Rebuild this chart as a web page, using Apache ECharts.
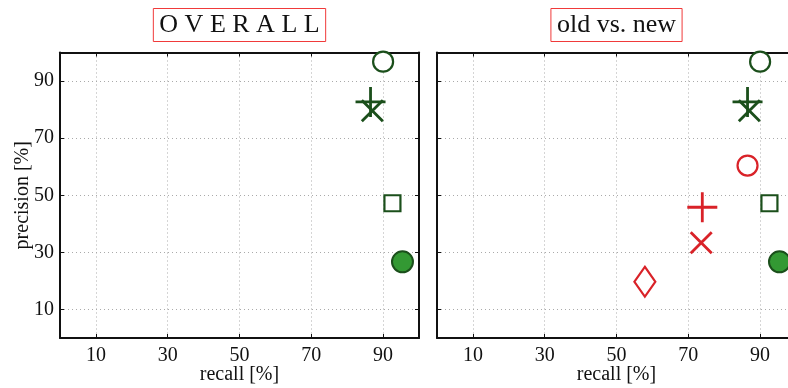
<!DOCTYPE html>
<html>
<head>
<meta charset="utf-8">
<script src="https://cdn.jsdelivr.net/npm/echarts@6/dist/echarts.min.js"></script>
<style>
  html, body { margin: 0; padding: 0; background: #fff; }
  #chart { width: 788px; height: 388px; }
</style>
</head>
<body>
<div id="chart"></div>
<script>
// Panel titles and axis ticks
const panelTitles = ['O V E R A L L', 'old vs. new'];
const tickValues = [10, 30, 50, 70, 90];

// Overall results (green): open circle, plus, cross, square, filled circle
const greenRecall = [90, 86.5, 87, 92.6, 95.4];
const greenPrecision = [96.8, 82.7, 79.6, 47.2, 26.7];

// Old method results (red): open circle, plus, cross, diamond
const redRecall = [86.5, 73.9, 73.6, 57.9];
const redPrecision = [60.4, 45.8, 33.4, 19.7];

const DARK = '#1b4f1b';
const FILL = '#339933';
const RED = '#d92228';
const FONT = 'Liberation Serif';

const PLUS = 'path://M0,5 L10,5 M5,0 L5,10';
const CROSS = 'path://M0,0 L10,10 M0,10 L10,0';

// marker look for each green / red point, in array order
const greenStyles = [
  { symbol: 'circle', size: 20, fill: '#fff', stroke: DARK, width: 2.2 },
  { symbol: PLUS, size: 30, fill: 'none', stroke: DARK, width: 2.8 },
  { symbol: CROSS, size: 21, fill: 'none', stroke: DARK, width: 2.8 },
  { symbol: 'rect', size: 16, fill: '#fff', stroke: DARK, width: 2.2 },
  { symbol: 'circle', size: 21, fill: FILL, stroke: DARK, width: 2 }
];
const redStyles = [
  { symbol: 'circle', size: 20, fill: '#fff', stroke: RED, width: 2.2 },
  { symbol: PLUS, size: 30, fill: 'none', stroke: RED, width: 2.8 },
  { symbol: CROSS, size: 21, fill: 'none', stroke: RED, width: 2.8 },
  { symbol: 'diamond', size: [21, 30], fill: '#fff', stroke: RED, width: 2.2 }
];

function points(xs, ys, styles) {
  return xs.map((x, i) => ({
    value: [x, ys[i]],
    symbol: styles[i].symbol,
    symbolSize: styles[i].size,
    itemStyle: {
      color: styles[i].fill,
      borderColor: styles[i].stroke,
      borderWidth: styles[i].width,
      opacity: 1
    }
  }));
}

const grids = [
  { left: 60, top: 52.5, width: 359, height: 285.5, outerBoundsMode: 'none', containLabel: false },
  { left: 437, top: 52.5, width: 359, height: 285.5, outerBoundsMode: 'none', containLabel: false }
];

const lineStyle = { color: '#111', width: 2 };
const labelStyle = { fontFamily: FONT, fontSize: 20, color: '#111' };

function mainX(gi) {
  return {
    type: 'value', gridIndex: gi, min: 0, max: 100, position: 'bottom',
    name: 'recall [%]', nameLocation: 'middle', nameGap: 27, nameMoveOverlap: false,
    nameTextStyle: { fontFamily: FONT, fontSize: 20, color: '#111' },
    axisLine: { show: true, onZero: false, lineStyle },
    axisTick: { show: true, inside: true, length: 4, customValues: tickValues, lineStyle: { color: '#111', width: 1 } },
    axisLabel: { show: true, customValues: tickValues, margin: 8, ...labelStyle },
    splitLine: { show: true, lineStyle: { color: '#aaa', width: 1, type: [1, 3] } }
  };
}
function mirrorX(gi) {
  return {
    type: 'value', gridIndex: gi, min: 0, max: 100, position: 'top',
    axisLine: { show: true, onZero: false, lineStyle },
    axisTick: { show: true, inside: true, length: 4, customValues: tickValues, lineStyle: { color: '#111', width: 1 } },
    axisLabel: { show: false },
    splitLine: { show: false }
  };
}
function mainY(gi) {
  return {
    type: 'value', gridIndex: gi, min: 0, max: 100, position: 'left',
    name: gi === 0 ? 'precision [%]' : '', nameLocation: 'middle', nameGap: 27, nameMoveOverlap: false,
    nameTextStyle: { fontFamily: FONT, fontSize: 20, color: '#111' },
    axisLine: { show: true, onZero: false, lineStyle },
    axisTick: { show: true, inside: true, length: 4, customValues: tickValues, lineStyle: { color: '#111', width: 1 } },
    axisLabel: { show: gi === 0, customValues: tickValues, margin: 6, ...labelStyle },
    splitLine: { show: true, lineStyle: { color: '#aaa', width: 1, type: [1, 3] } }
  };
}
function mirrorY(gi) {
  return {
    type: 'value', gridIndex: gi, min: 0, max: 100, position: 'right',
    axisLine: { show: true, onZero: false, lineStyle },
    axisTick: { show: true, inside: true, length: 4, customValues: tickValues, lineStyle: { color: '#111', width: 1 } },
    axisLabel: { show: false },
    splitLine: { show: false }
  };
}

const chart = echarts.init(document.getElementById('chart'), null, { renderer: 'canvas' });

chart.setOption({
  animation: false,
  backgroundColor: '#fff',
  grid: grids,
  xAxis: [mainX(0), mirrorX(0), mainX(1), mirrorX(1)],
  yAxis: [mainY(0), mirrorY(0), mainY(1), mirrorY(1)],
  graphic: panelTitles.map((t, i) => ({
    type: 'text',
    x: grids[i].left + grids[i].width / 2,
    y: 25,
    style: {
      text: t,
      fontFamily: FONT,
      fontSize: 26,
      fill: '#111',
      align: 'center',
      verticalAlign: 'middle',
      borderColor: '#f03a3a',
      borderWidth: 1,
      padding: [4, 6, 3, 6]
    }
  })),
  series: [
    { type: 'scatter', xAxisIndex: 0, yAxisIndex: 0, data: points(greenRecall, greenPrecision, greenStyles) },
    { type: 'scatter', xAxisIndex: 2, yAxisIndex: 2, data: points(greenRecall, greenPrecision, greenStyles) },
    { type: 'scatter', xAxisIndex: 2, yAxisIndex: 2, data: points(redRecall, redPrecision, redStyles) }
  ]
});
</script>
</body>
</html>
